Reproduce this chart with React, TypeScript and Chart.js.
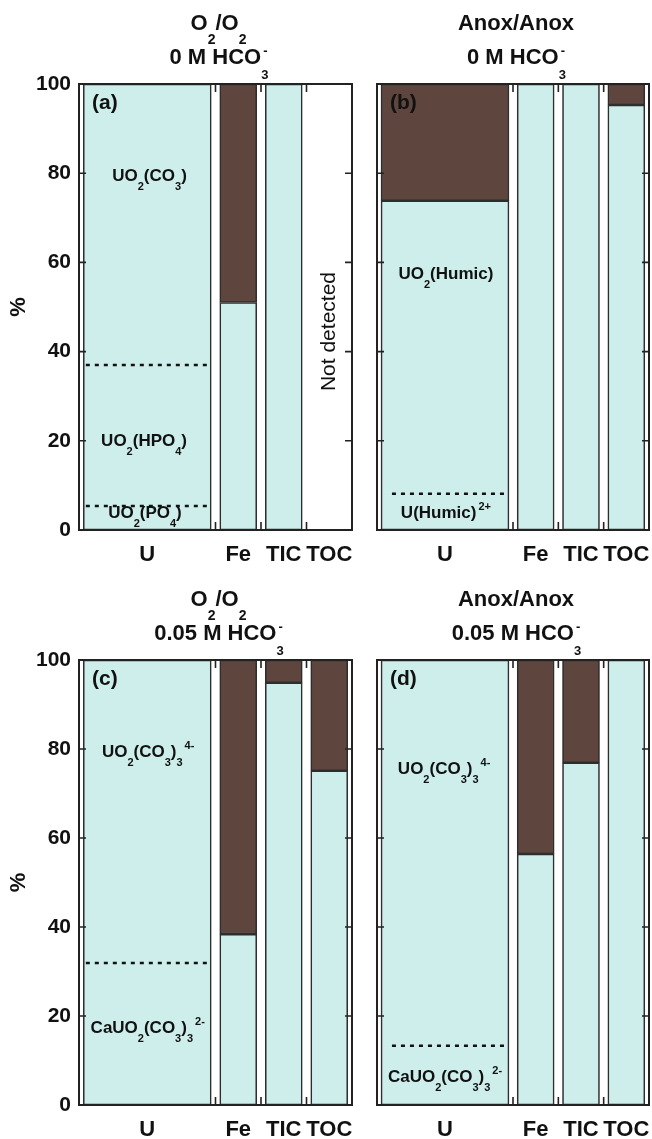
import React, { useEffect, useRef } from 'react';
import { Chart, registerables } from 'chart.js';

Chart.register(...registerables);

const FONT = '"Liberation Sans", Arial, Helvetica, sans-serif';
const CYAN = '#cdeeea';
const BROWN = '#5e463f';
const EDGE = '#2e2e2e';
const INK = '#111111';

// ---- data ----
const categories = ['U', 'Fe', 'TIC', 'TOC'];
const categorySpans = [3, 1, 1, 1];
const yTicks = [0, 20, 40, 60, 80, 100];

// (a) O2/O2, 0 M HCO3-
const aCyan = [100, 51, 100, null];
const aBrown = [null, 49, null, null];
const aSpeciesBreaks = [37, 5.4];
// (b) Anox/Anox, 0 M HCO3-
const bCyan = [73.8, 100, 100, 95.3];
const bBrown = [26.2, null, null, 4.7];
const bSpeciesBreaks = [8.1];
// (c) O2/O2, 0.05 M HCO3-
const cCyan = [100, 38.4, 94.9, 75.1];
const cBrown = [null, 61.6, 5.1, 24.9];
const cSpeciesBreaks = [31.9];
// (d) Anox/Anox, 0.05 M HCO3-
const dCyan = [100, 56.4, 76.9, 100];
const dBrown = [null, 43.6, 23.1, null];
const dSpeciesBreaks = [13.3];

type Part = { t: string; k?: 'sub' | 'sup'; ov?: boolean };
type Label = { parts: Part[]; x: number; y: number; rotate?: boolean };

const P = (t: string, k?: 'sub' | 'sup', ov?: boolean): Part => ({ t, k, ov });

const titleO2: Part[] = [P('O'), P('2', 'sub'), P('/O'), P('2', 'sub')];
const titleAnox: Part[] = [P('Anox/Anox')];
const title0M: Part[] = [P('0 M HCO'), P('3', 'sub', true), P('-', 'sup')];
const title005M: Part[] = [P('0.05 M HCO'), P('3', 'sub', true), P('-', 'sup')];

const sUO2CO3: Part[] = [P('UO'), P('2', 'sub'), P('(CO'), P('3', 'sub'), P(')')];
const sUO2HPO4: Part[] = [P('UO'), P('2', 'sub'), P('(HPO'), P('4', 'sub'), P(')')];
const sUO2PO4: Part[] = [P('UO'), P('2', 'sub'), P('(PO'), P('4', 'sub'), P(')')];
const sUO2Humic: Part[] = [P('UO'), P('2', 'sub'), P('(Humic)')];
const sUHumic: Part[] = [P('U(Humic)'), P('2+', 'sup')];
const sUO2CO33: Part[] = [P('UO'), P('2', 'sub'), P('(CO'), P('3', 'sub'), P(')'), P('3', 'sub'), P('4-', 'sup')];
const sCaUO2CO33: Part[] = [P('CaUO'), P('2', 'sub'), P('(CO'), P('3', 'sub'), P(')'), P('3', 'sub'), P('2-', 'sup')];

const aLabels: Label[] = [
  { parts: sUO2CO3, x: 1.55, y: 78.2 },
  { parts: sUO2HPO4, x: 1.43, y: 18.9 },
  { parts: sUO2PO4, x: 1.45, y: 2.7 },
  { parts: [P('Not detected')], x: 5.49, y: 44.5, rotate: true },
];
const bLabels: Label[] = [
  { parts: sUO2Humic, x: 1.52, y: 56.2 },
  { parts: sUHumic, x: 1.52, y: 2.7 },
];
const cLabels: Label[] = [
  { parts: sUO2CO33, x: 1.52, y: 78.2 },
  { parts: sCaUO2CO33, x: 1.51, y: 16.2 },
];
const dLabels: Label[] = [
  { parts: sUO2CO33, x: 1.48, y: 74.4 },
  { parts: sCaUO2CO33, x: 1.5, y: 5.2 },
];

const edges = categorySpans.reduce((acc: number[], s) => [...acc, acc[acc.length - 1] + s], [0]);
const centers = categorySpans.map((s, i) => edges[i] + s / 2);
const xMax = edges[edges.length - 1];

type PanelSpec = {
  letter: string;
  title1: Part[];
  title2: Part[];
  cyan: (number | null)[];
  brown: (number | null)[];
  breaks: number[];
  dashFrom: number;
  labels: Label[];
  showY: boolean;
  yWidth: number;
  padRight: number;
  xHeight: number;
};

function drawRich(
  ctx: CanvasRenderingContext2D,
  parts: Part[],
  x: number,
  y: number,
  size: number,
  subSize: number,
  subDy: number,
  supDy: number,
  weight: string
) {
  const widths = parts.map((p) => {
    ctx.font = `${weight} ${p.k ? subSize : size}px ${FONT}`;
    return p.ov ? 0 : ctx.measureText(p.t).width + (p.k === 'sup' ? 2 : 0);
  });
  const total = widths.reduce((a, b) => a + b, 0);
  let cx = x - total / 2;
  ctx.textAlign = 'left';
  ctx.textBaseline = 'alphabetic';
  parts.forEach((p, i) => {
    ctx.font = `${weight} ${p.k ? subSize : size}px ${FONT}`;
    const dy = p.k === 'sub' ? subDy : p.k === 'sup' ? -supDy : 0;
    const dx = p.k === 'sup' ? 2 : 0;
    ctx.fillText(p.t, cx + dx, y + dy);
    cx += widths[i];
  });
}

function makeDecor(p: PanelSpec) {
  return {
    id: 'decor',
    afterDraw(chart: any) {
      const { ctx, chartArea: a, scales } = chart;
      const xs = scales.x;
      const ys = scales.y;
      ctx.save();
      // frame
      ctx.strokeStyle = '#222';
      ctx.lineWidth = 2;
      ctx.strokeRect(a.left, a.top, a.right - a.left, a.bottom - a.top);
      // inward ticks
      ctx.lineWidth = 1.6;
      ctx.beginPath();
      yTicks.forEach((v) => {
        const py = ys.getPixelForValue(v);
        ctx.moveTo(a.left, py);
        ctx.lineTo(a.left + 7, py);
        ctx.moveTo(a.right, py);
        ctx.lineTo(a.right - 7, py);
      });
      edges.slice(1, -1).forEach((v) => {
        const px = xs.getPixelForValue(v);
        ctx.moveTo(px, a.top);
        ctx.lineTo(px, a.top + 8);
        ctx.moveTo(px, a.bottom);
        ctx.lineTo(px, a.bottom - 8);
      });
      ctx.stroke();

      ctx.fillStyle = INK;
      // species labels
      p.labels.forEach((l) => {
        const px = xs.getPixelForValue(l.x);
        const py = ys.getPixelForValue(l.y);
        if (l.rotate) {
          ctx.save();
          ctx.translate(px, py);
          ctx.rotate(-Math.PI / 2);
          ctx.font = `normal 21px ${FONT}`;
          ctx.textAlign = 'center';
          ctx.textBaseline = 'middle';
          ctx.fillText(l.parts.map((q) => q.t).join(''), 0, 0);
          ctx.restore();
        } else {
          drawRich(ctx, l.parts, px, py, 17, 11, 9, 8, 'bold');
        }
      });
      // panel letter
      ctx.font = `bold 21px ${FONT}`;
      ctx.textAlign = 'left';
      ctx.textBaseline = 'alphabetic';
      ctx.fillText(p.letter, a.left + 13, a.top + 25);
      // titles
      const mid = (a.left + a.right) / 2 + 3;
      drawRich(ctx, p.title1, mid, a.top - 54, 22, 14, 14, 8, 'bold');
      drawRich(ctx, p.title2, mid, a.top - 20, 22, 13, 15, 9, 'bold');
      ctx.restore();
    },
  };
}

function buildConfig(p: PanelSpec): any {
  const dashTo = centers[0] + 1.36;
  const font = (size: number) => ({ family: FONT, size, weight: 'bold' as const });
  const barBase = { borderColor: EDGE, borderWidth: 1.6, borderSkipped: false, stack: 'bars', order: 1 };
  const datasets: any[] = [
    ...p.breaks.map((v, i) => ({
      type: 'line',
      data: [
        { x: p.dashFrom, y: v },
        { x: dashTo, y: v },
      ],
      borderColor: INK,
      borderWidth: 2.5,
      borderDash: [4, 5],
      pointRadius: 0,
      fill: false,
      stack: 'break' + i,
      order: 0,
    })),
    { ...barBase, type: 'bar', data: [{ x: centers[0], y: p.cyan[0] }], backgroundColor: CYAN, barThickness: 128 },
    { ...barBase, type: 'bar', data: [{ x: centers[0], y: p.brown[0] }], backgroundColor: BROWN, barThickness: 128 },
    {
      ...barBase,
      type: 'bar',
      data: centers.slice(1).map((c, i) => ({ x: c, y: p.cyan[i + 1] })),
      backgroundColor: CYAN,
      barThickness: 37,
    },
    {
      ...barBase,
      type: 'bar',
      data: centers.slice(1).map((c, i) => ({ x: c, y: p.brown[i + 1] })),
      backgroundColor: BROWN,
      barThickness: 37,
    },
  ];
  return {
    type: 'bar',
    data: { datasets },
    plugins: [makeDecor(p)],
    options: {
      animation: false,
      responsive: false,
      maintainAspectRatio: false,
      layout: { padding: { top: 84, right: p.padRight, left: 0, bottom: 0 } },
      plugins: { legend: { display: false }, tooltip: { enabled: false }, title: { display: false } },
      scales: {
        x: {
          type: 'linear',
          min: 0,
          max: xMax,
          offset: false,
          grid: { display: false, drawTicks: false },
          border: { display: false },
          afterBuildTicks: (s: any) => {
            s.ticks = centers.map((v) => ({ value: v }));
          },
          ticks: {
            callback: (_v: any, i: number) => categories[i],
            font: font(22),
            color: INK,
            padding: 12,
            autoSkip: false,
            maxRotation: 0,
          },
          afterFit: (s: any) => {
            s.height = p.xHeight;
            s.paddingLeft = 0;
            s.paddingRight = 0;
          },
        },
        y: {
          min: 0,
          max: 100,
          stacked: true,
          grid: { display: false, drawTicks: false },
          border: { display: false },
          afterBuildTicks: (s: any) => {
            s.ticks = yTicks.map((v) => ({ value: v }));
          },
          ticks: { display: p.showY, font: font(21), color: INK, padding: 8 },
          title: { display: p.showY, text: '%', font: font(22), color: INK, padding: { top: 6, bottom: 4 } },
          afterFit: (s: any) => {
            s.width = p.yWidth;
            s.paddingTop = 0;
            s.paddingBottom = 0;
          },
        },
      },
    },
  };
}

const panels: { spec: PanelSpec; left: number; top: number; width: number; height: number }[] = [
  {
    spec: { letter: '(a)', title1: titleO2, title2: title0M, cyan: aCyan, brown: aBrown, breaks: aSpeciesBreaks, dashFrom: 0.15, labels: aLabels, showY: true, yWidth: 79, padRight: 8, xHeight: 46 },
    left: 0, top: 0, width: 360, height: 576,
  },
  {
    spec: { letter: '(b)', title1: titleAnox, title2: title0M, cyan: bCyan, brown: bBrown, breaks: bSpeciesBreaks, dashFrom: 0.33, labels: bLabels, showY: false, yWidth: 17, padRight: 3, xHeight: 46 },
    left: 360, top: 0, width: 292, height: 576,
  },
  {
    spec: { letter: '(c)', title1: titleO2, title2: title005M, cyan: cCyan, brown: cBrown, breaks: cSpeciesBreaks, dashFrom: 0.15, labels: cLabels, showY: true, yWidth: 79, padRight: 8, xHeight: 34 },
    left: 0, top: 576, width: 360, height: 563,
  },
  {
    spec: { letter: '(d)', title1: titleAnox, title2: title005M, cyan: dCyan, brown: dBrown, breaks: dSpeciesBreaks, dashFrom: 0.33, labels: dLabels, showY: false, yWidth: 17, padRight: 3, xHeight: 34 },
    left: 360, top: 576, width: 292, height: 563,
  },
];

function Panel(props: { spec: PanelSpec; left: number; top: number; width: number; height: number }) {
  const ref = useRef<HTMLCanvasElement>(null);
  useEffect(() => {
    const chart = new Chart(ref.current as HTMLCanvasElement, buildConfig(props.spec));
    return () => chart.destroy();
  }, []);
  return (
    <canvas
      ref={ref}
      width={props.width}
      height={props.height}
      style={{ position: 'absolute', left: props.left, top: props.top, width: props.width, height: props.height }}
    />
  );
}

export default function App() {
  return (
    <div style={{ position: 'absolute', left: 0, top: 0, width: 652, height: 1139, background: '#fff' }}>
      {panels.map((p, i) => (
        <Panel key={i} {...p} />
      ))}
    </div>
  );
}
